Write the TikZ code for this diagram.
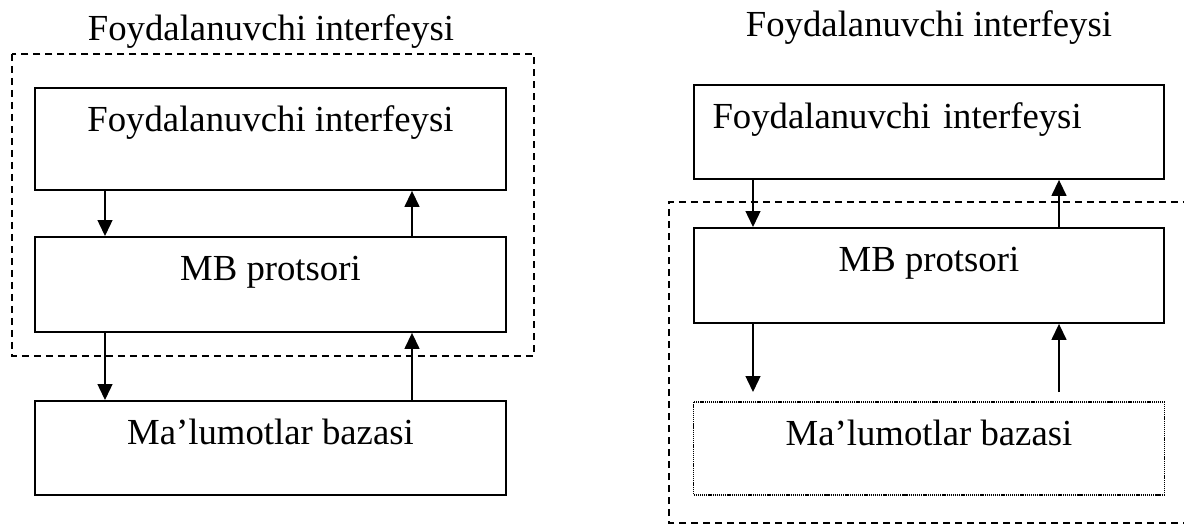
\documentclass[tikz,border=0pt]{standalone}
\usepackage{fontspec}
\setmainfont{Liberation Serif}
\usetikzlibrary{arrows.meta}

\tikzset{
  blok/.style={draw, line width=1.1pt, rectangle, inner sep=0pt, minimum width=9.42cm, text height=0.88cm},
  blokchap/.style={blok, inner xsep=0.38cm, text width=8.66cm, align=left},
  strelka/.style={line width=0.8pt, -{Triangle[length=0.32cm,width=0.3cm]}},
  ramka/.style={line width=0.8pt, dash pattern=on 0.14cm off 0.1cm},
  nuqta/.style={line width=0.9pt, dash pattern=on 0.7pt off 0.5pt}
}

\begin{document}
\begin{tikzpicture}[x=0.02cm, y=-0.02cm, font=\fontsize{20.9}{24}\selectfont]
\useasboundingbox (0,0) rectangle (1184,524);

% Left scheme: title and dashed frame
\node[anchor=base] (lsar) at (271,40) {Foydalanuvchi interfeysi};
\draw[ramka] (12,54) rectangle (534,356);

% Left scheme: boxes
\node[blok, anchor=north, text depth=1.16cm] (lfi) at (270.5,87) {Foydalanuvchi interfeysi};
\node[blok, anchor=north, text depth=1.02cm] (lmb) at (270.5,236) {MB protsori};
\node[blok, anchor=north, text depth=1.0cm] (lbaza) at (270.5,400) {Ma’lumotlar bazasi};

% Left scheme: arrows
\coordinate (lx1) at (105,0);
\coordinate (lx2) at (412,0);
\draw[strelka] (lfi.south -| lx1) -- (lmb.north -| lx1);
\draw[strelka] (lmb.north -| lx2) -- (lfi.south -| lx2);
\draw[strelka] (lmb.south -| lx1) -- (lbaza.north -| lx1);
\draw[strelka] (lbaza.north -| lx2) -- (lmb.south -| lx2);

% Right scheme: title and dashed frame (open on the right)
\node[anchor=base] (rsar) at (929,36) {Foydalanuvchi interfeysi};
\draw[ramka] (1190,523) -- (669,523) -- (669,202) -- (1190,202);

% Right scheme: boxes
\node[blokchap, anchor=north, text depth=1.0cm] (rfi) at (929,84) {Foydalanuvchi interfeysi};
\node[blok, anchor=north, text depth=1.02cm] (rmb) at (929,227) {MB protsori};
\node[blok, nuqta, anchor=north, text depth=0.98cm] (rbaza) at (929,401) {Ma’lumotlar bazasi};

% Right scheme: arrows
\coordinate (rx1) at (753,0);
\coordinate (rx2) at (1059,0);
\coordinate (rpast) at (0,392);
\draw[strelka] (rfi.south -| rx1) -- (rmb.north -| rx1);
\draw[strelka] (rmb.north -| rx2) -- (rfi.south -| rx2);
\draw[strelka] (rmb.south -| rx1) -- (rx1 |- rpast);
\draw[strelka] (rx2 |- rpast) -- (rmb.south -| rx2);
\end{tikzpicture}
\end{document}
